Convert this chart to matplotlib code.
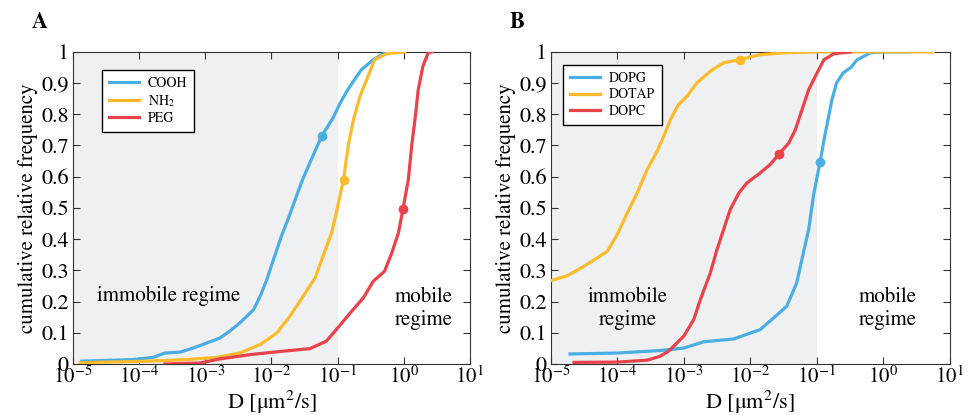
import numpy as np
import matplotlib
matplotlib.use("Agg")
import matplotlib.pyplot as plt

plt.rcParams.update({
    "font.family": "serif", "font.serif": ["STIXGeneral", "Liberation Serif", "DejaVu Serif"],
    "mathtext.fontset": "stix", "font.size": 15,
    "axes.linewidth": 0.8, "axes.edgecolor": "#333333",
    "xtick.direction": "in", "ytick.direction": "in",
    "xtick.top": True, "ytick.right": True,
    "xtick.minor.visible": True,
})

BLUE = "#4aaee3"; YELLOW = "#fbbb2c"; RED = "#e8424a"; SHADE = "#eff0f1"

# ---- panel A: log10(D) and cumulative frequency ----
cooh_logd = [-4.87, -4.09, -3.79, -3.61, -3.38, -3.18, -2.98, -2.78, -2.63, -2.48, -2.27, -2.17,
             -2.07, -1.97, -1.85, -1.75, -1.64, -1.54, -1.42, -1.24, -1.07, -0.96, -0.86, -0.76,
             -0.64, -0.46, -0.31, -0.13]
cooh_cdf = [0.009, 0.014, 0.021, 0.035, 0.038, 0.051, 0.067, 0.083, 0.105, 0.131, 0.174, 0.217,
            0.270, 0.334, 0.409, 0.463, 0.527, 0.585, 0.644, 0.730, 0.788, 0.836, 0.874, 0.906,
            0.943, 0.975, 0.994, 1.0]
nh2_logd = [-4.89, -3.84, -3.28, -2.83, -2.48, -2.17, -1.92, -1.72, -1.52, -1.34, -1.22, -1.09,
            -1.02, -0.91, -0.84, -0.76, -0.66, -0.56, -0.44, -0.26, 0.02]
nh2_cdf = [0.004, 0.009, 0.014, 0.021, 0.035, 0.062, 0.099, 0.153, 0.217, 0.276, 0.345, 0.420,
           0.484, 0.591, 0.698, 0.783, 0.858, 0.911, 0.975, 0.994, 1.0]
peg_logd = [-3.61, -3.08, -2.78, -2.32, -1.82, -1.42, -1.17, -1.02, -0.81, -0.61, -0.46, -0.29,
            -0.18, -0.08, -0.01, 0.07, 0.12, 0.17, 0.22, 0.29, 0.37, 0.42]
peg_cdf = [0.0, 0.003, 0.016, 0.030, 0.041, 0.049, 0.073, 0.110, 0.163, 0.212, 0.265, 0.297,
           0.356, 0.420, 0.498, 0.591, 0.698, 0.783, 0.879, 0.954, 0.997, 1.0]
a_marks = {"COOH": (-1.24, 0.730), "NH2": (-0.91, 0.591), "PEG": (-0.01, 0.498)}

# ---- panel B ----
dopg_logd = [-4.71, -4.0, -3.35, -3.0, -2.70, -2.25, -2.0, -1.85, -1.65, -1.45, -1.30, -1.20,
             -1.12, -1.05, -0.95, -0.87, -0.77, -0.70, -0.60, -0.49, -0.39, -0.19, 0.0, 0.36]
dopg_cdf = [0.032, 0.035, 0.043, 0.051, 0.071, 0.080, 0.099, 0.110, 0.147, 0.185, 0.260, 0.356,
            0.431, 0.537, 0.646, 0.740, 0.847, 0.901, 0.933, 0.949, 0.975, 0.997, 1.0, 1.0]
dotap_logd = [-5.0, -4.75, -4.50, -4.30, -4.15, -4.0, -3.85, -3.70, -3.55, -3.40, -3.30, -3.20,
              -3.08, -2.95, -2.80, -2.60, -2.40, -2.16, -1.85, -1.50, -1.0, 0.76]
dotap_cdf = [0.267, 0.283, 0.313, 0.340, 0.361, 0.415, 0.484, 0.548, 0.623, 0.682, 0.730, 0.783,
             0.831, 0.858, 0.901, 0.938, 0.965, 0.975, 0.991, 0.997, 1.0, 1.0]
dopc_logd = [-4.65, -4.0, -3.55, -3.35, -3.23, -3.15, -3.0, -2.85, -2.75, -2.60, -2.50, -2.40,
             -2.30, -2.17, -2.05, -1.85, -1.70, -1.56, -1.42, -1.32, -1.22, -1.12, -1.02, -0.89,
             -0.74, -0.49]
dopc_cdf = [0.005, 0.006, 0.012, 0.025, 0.041, 0.057, 0.089, 0.142, 0.206, 0.292, 0.366, 0.431,
            0.495, 0.548, 0.580, 0.612, 0.639, 0.674, 0.708, 0.751, 0.815, 0.879, 0.922, 0.975,
            0.994, 1.0]
b_marks = {"DOPG": (-0.95, 0.646), "DOTAP": (-2.16, 0.975), "DOPC": (-1.56, 0.674)}

xticks = [1e-5, 1e-4, 1e-3, 1e-2, 1e-1, 1e0, 1e1]
xticklabels = [r"$10^{-5}$", r"$10^{-4}$", r"$10^{-3}$", r"$10^{-2}$", r"$10^{-1}$", r"$10^{0}$", r"$10^{1}$"]
yticks = np.round(np.arange(0, 1.01, 0.1), 1)
yticklabels = ["0"] + [f"{v:.1f}" for v in yticks[1:-1]] + ["1"]

FS = 15

fig = plt.figure(figsize=(9.68, 4.15), dpi=100)
axA = fig.add_axes([0.0754, 0.123, 0.410, 0.752])
axB = fig.add_axes([0.569, 0.123, 0.412, 0.752])

def setup(ax):
    ax.set_xscale("log")
    ax.set_xlim(1e-5, 1e1); ax.set_ylim(0, 1)
    ax.axvspan(1e-5, 1e-1, color=SHADE, lw=0, zorder=0)
    ax.set_xticks(xticks); ax.set_xticklabels(xticklabels)
    ax.set_yticks(yticks); ax.set_yticklabels(yticklabels)
    ax.tick_params(which="major", length=5, width=0.8, labelsize=FS + 1, pad=3, color="#333333")
    ax.tick_params(which="minor", length=2.5, width=0.6, color="#333333")
    ax.tick_params(axis="x", pad=2, labelsize=FS)
    ax.set_xlabel(r"D [$\mathrm{\mu}$m$^2$/s]", fontsize=FS + 1, labelpad=0)
    ax.set_ylabel("cumulative relative frequency", fontsize=FS, labelpad=2)

def curve(ax, logd, cdf, color, label, mark):
    ax.plot(np.power(10.0, logd), cdf, color=color, lw=2.3, label=label, zorder=3)
    ax.plot(10 ** mark[0], mark[1], "o", color=color, ms=6, zorder=4)

setup(axA)
curve(axA, cooh_logd, cooh_cdf, BLUE, "COOH", a_marks["COOH"])
curve(axA, nh2_logd, nh2_cdf, YELLOW, r"NH$_2$", a_marks["NH2"])
curve(axA, peg_logd, peg_cdf, RED, "PEG", a_marks["PEG"])
axA.text(10 ** -4.64, 0.217, "immobile regime", ha="left", va="center", fontsize=FS)
axA.text(10 ** 0.30, 0.177, "mobile\nregime", ha="center", va="center", fontsize=FS, linespacing=1.15)

setup(axB)
curve(axB, dopg_logd, dopg_cdf, BLUE, "DOPG", b_marks["DOPG"])
curve(axB, dotap_logd, dotap_cdf, YELLOW, "DOTAP", b_marks["DOTAP"])
curve(axB, dopc_logd, dopc_cdf, RED, "DOPC", b_marks["DOPC"])
axB.text(10 ** -3.84, 0.177, "immobile\nregime", ha="center", va="center", fontsize=FS, linespacing=1.15)
axB.text(10 ** 0.07, 0.177, "mobile\nregime", ha="center", va="center", fontsize=FS, linespacing=1.15)

for ax, loc in ((axA, (0.073, 0.942)), (axB, (0.03, 0.958))):
    leg = ax.legend(loc="upper left", bbox_to_anchor=loc, fontsize=10, handlelength=2.2,
                    borderpad=0.5, labelspacing=0.2, handletextpad=0.6, borderaxespad=0,
                    fancybox=False, framealpha=1, edgecolor="black")
    leg.get_frame().set_linewidth(1.0)

fig.text(40 / 968, 1 - 23 / 415, "A", fontsize=16, fontweight="bold", ha="center", va="center")
fig.text(517 / 968, 1 - 23 / 415, "B", fontsize=16, fontweight="bold", ha="center", va="center")

fig.savefig("out.png", dpi=100)
